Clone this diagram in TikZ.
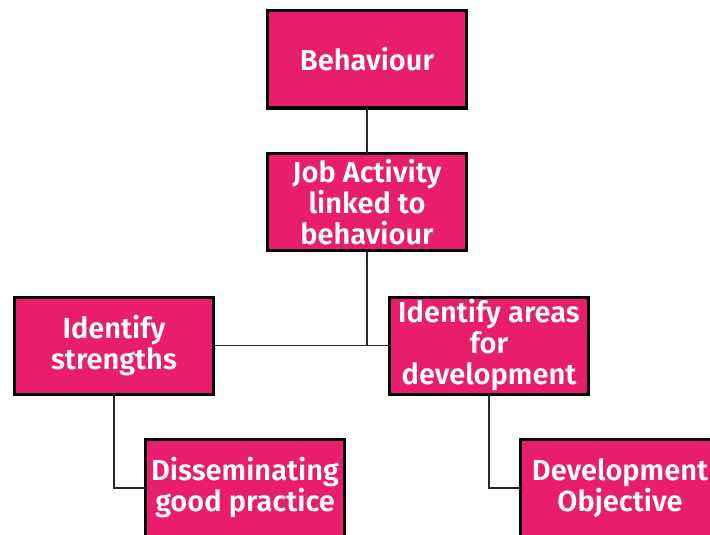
\documentclass[tikz,border=0pt]{standalone}
\usepackage{fontspec}
\setmainfont{Fira Sans}[BoldFont={Fira Sans SemiBold}]
\usetikzlibrary{shadows}
\definecolor{boxpink}{RGB}{232,30,108}
\definecolor{shadowgray}{RGB}{170,170,170}
\tikzset{
  orgbox/.style={draw=black, line width=3pt, fill=boxpink, text=white,
    font=\bfseries\fontsize{29}{31}\selectfont, align=center,
    minimum width=199pt, minimum height=97pt, inner sep=0pt, outer sep=0pt,
    drop shadow={shadow xshift=1.5pt, shadow yshift=-1.5pt, fill=shadowgray, opacity=1}},
  conn/.style={draw=black!85, line width=1.5pt}
}
\begin{document}
\begin{tikzpicture}[x=1pt,y=-1pt]
\clip (0,0) rectangle (710,535);
\fill[white] (0,0) rectangle (710,535);
\node[orgbox] (beh) at (367,59.5) {Behaviour};
\node[orgbox] (job) at (367,202) {Job Activity\\linked to\\behaviour};
\node[orgbox] (str) at (114,345.5) {Identify\\strengths};
\node[orgbox] (area) at (489,345.5) {Identify areas\\for\\development};
\node[orgbox] (dis) at (245,488) {Disseminating\\good practice};
\node[orgbox] (dev) at (620,488) {Development\\Objective};
\draw[conn] (beh) -- (job);
\draw[conn] (str.east) -- (area.west);
\draw[conn] (job.south) -- (job.south |- str.east);
\draw[conn] (str.south) |- (dis.west);
\draw[conn] (area.south) |- (dev.west);
\end{tikzpicture}
\end{document}
